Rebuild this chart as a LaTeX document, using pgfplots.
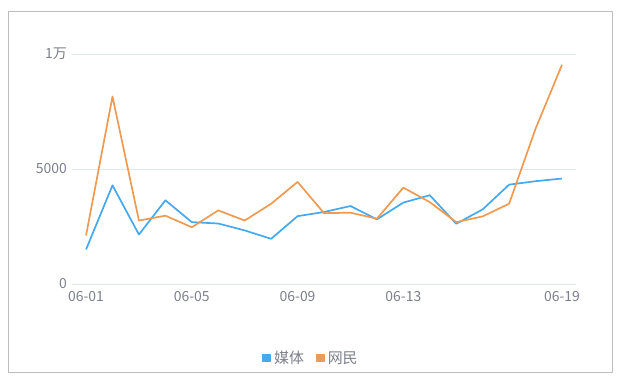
\documentclass[border=0pt]{standalone}
\usepackage{fontspec}
\setmainfont{Noto Sans CJK SC}
\usepackage{pgfplots}
\pgfplotsset{compat=1.18}
\definecolor{gridc}{HTML}{E3E8F0}
\definecolor{labc}{HTML}{7C7F8A}
\definecolor{blueL}{HTML}{45A9EE}
\definecolor{orangeL}{HTML}{EE9A52}
\definecolor{framec}{HTML}{BDBDBD}
\pgfplotstableread{
x media netizen
0 1500 2110
1 4290 8150
2 2150 2760
3 3640 2970
4 2690 2470
5 2630 3200
6 2330 2760
7 1965 3490
8 2950 4440
9 3130 3080
10 3390 3100
11 2810 2840
12 3540 4190
13 3860 3560
14 2620 2690
15 3245 2940
16 4320 3490
17 4470 6750
18 4585 9530
}\datatable
\begin{document}
\begin{tikzpicture}[x=1bp,y=1bp]
\useasboundingbox (0,0) rectangle (621,384);
\draw[framec, line width=0.8bp] (8,12) rectangle (612,373);
\begin{axis}[
  at={(72.3bp,100bp)}, anchor=south west,
  width=503.7bp, height=230bp, scale only axis,
  xmin=-0.52, xmax=18.53, ymin=0, ymax=10000,
  scaled y ticks=false,
  axis line style={draw=none},
  ytick={0,5000,10000}, yticklabels={0,5000,1万},
  xtick={0,4,8,12,18}, xticklabels={06-01,06-05,06-09,06-13,06-19},
  major tick length=0,
  ymajorgrids, grid style={gridc, line width=0.8bp},
  tick label style={font=\fontsize{14}{16}\selectfont, text=labc},
  yticklabel style={xshift=-2bp},
  xticklabel style={yshift=-4bp},
  legend columns=2,
  legend style={draw=none, fill=none, at={(0.474,-0.322)}, anchor=center,
    font=\fontsize{15}{17}\selectfont, text=labc,
    /tikz/every odd column/.append style={column sep=1bp},
    /tikz/every even column/.append style={column sep=10bp}},
  legend image code/.code={\fill[#1] (0bp,-3.5bp) rectangle (7bp,3.5bp);},
]
\addplot[blueL, line width=1.7bp, line join=round] table[x=x, y=media] {\datatable};
\addlegendentry{媒体}
\addplot[orangeL, line width=1.7bp, line join=round] table[x=x, y=netizen] {\datatable};
\addlegendentry{网民}
\end{axis}
\end{tikzpicture}
\end{document}
